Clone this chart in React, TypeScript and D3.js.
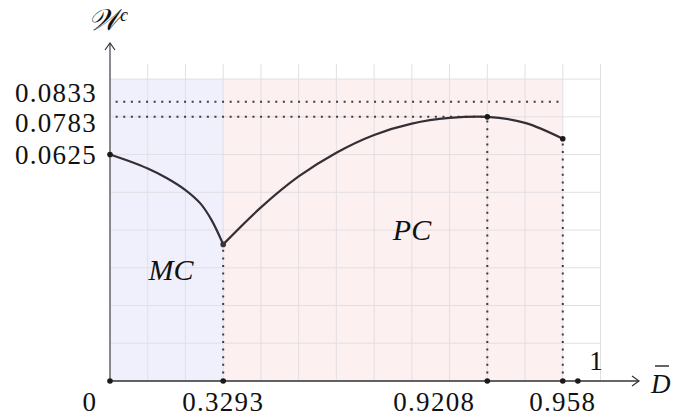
import React from "react";
import * as d3 from "d3";

// schematic plot units (1 unit = one grid square), as in the original figure
const xTickUnits = [0, 3, 10, 12, 12.4];
const xTickLabels = ["0", "0.3293", "0.9208", "0.958", "1"];
const yTickUnits = [6, 7, 7.4];
const yTickLabels = ["0.0625", "0.0783", "0.0833"];

// W^c curve in the MC region
const mcCurve: [number, number][] = [
  [0, 6], [0.5, 5.83], [1, 5.63], [1.5, 5.38], [2, 5.06], [2.4, 4.7], [2.7, 4.25], [3, 3.62],
];
// W^c curve in the PC region
const pcCurve: [number, number][] = [
  [3, 3.62], [4, 4.6], [5, 5.42], [6, 6.05], [7, 6.52], [8, 6.82], [9, 6.97],
  [10, 7.0], [11, 6.84], [12, 6.42],
];

const regions = [
  { name: "MC", x0: 0, x1: 3, fill: "#f0f0fd" },
  { name: "PC", x0: 3, x1: 12, fill: "#fdf0f0" },
];

const W = 675;
const H = 419;

export default function App() {
  const x = d3.scaleLinear().domain([0, 13]).range([110, 600.5]);
  const y = d3.scaleLinear().domain([0, 8.4]).range([381, 64]);

  const line = d3
    .line<[number, number]>()
    .x((d) => x(d[0]))
    .y((d) => y(d[1]))
    .curve(d3.curveCatmullRom.alpha(0.5));

  const gridX = d3.range(0, 14);
  const gridY = d3.range(0, 9);
  const font = "Liberation Serif, DejaVu Serif, serif";
  const dotted = { stroke: "#3c3c3c", strokeWidth: 2, strokeDasharray: "2 5.6" };

  const minPt = mcCurve[mcCurve.length - 1];
  const maxPt = pcCurve[7];
  const endPt = pcCurve[pcCurve.length - 1];

  // label nudges so the close y labels don't collide
  const yLabelShift = [0, 6, -9];
  const xLabelShift = [-20, 0, -53, 0, 0];

  return (
    <svg width={W} height={H} style={{ position: "absolute", left: 0, top: 0 }}>
      {regions.map((r) => (
        <rect key={r.name} x={x(r.x0)} y={y(8)} width={x(r.x1) - x(r.x0)} height={y(0) - y(8)} fill={r.fill} />
      ))}
      {gridX.map((g) => (
        <line key={"gx" + g} x1={x(g)} x2={x(g)} y1={y(0)} y2={y(8.4)} stroke="#e2dfe3" strokeWidth={1} />
      ))}
      {gridY.map((g) => (
        <line key={"gy" + g} x1={x(0)} x2={x(13)} y1={y(g)} y2={y(g)} stroke="#e2dfe3" strokeWidth={1} />
      ))}

      {/* dotted guides */}
      <line x1={x(0.15)} x2={x(12)} y1={y(7.4)} y2={y(7.4)} {...dotted} />
      <line x1={x(0.15)} x2={x(maxPt[0])} y1={y(maxPt[1])} y2={y(maxPt[1])} {...dotted} />
      <line x1={x(minPt[0])} x2={x(minPt[0])} y1={y(0)} y2={y(minPt[1])} {...dotted} />
      <line x1={x(maxPt[0])} x2={x(maxPt[0])} y1={y(0)} y2={y(maxPt[1])} {...dotted} />
      <line x1={x(endPt[0])} x2={x(endPt[0])} y1={y(0)} y2={y(endPt[1])} {...dotted} />

      {/* axes */}
      <line x1={x(0)} x2={x(0)} y1={y(0)} y2={43} stroke="#6e6e78" strokeWidth={1.6} />
      <path d={`M${x(0) - 5},${50} L${x(0)},${43} L${x(0) + 5},${50}`} fill="none" stroke="#333" strokeWidth={1.2} />
      <line x1={x(0)} x2={639} y1={y(0)} y2={y(0)} stroke="#333" strokeWidth={1.6} />
      <path d={`M${632},${y(0) - 5} L${639},${y(0)} L${632},${y(0) + 5}`} fill="none" stroke="#333" strokeWidth={1.2} />

      {/* curves */}
      <path d={line(mcCurve) || ""} fill="none" stroke="#352f35" strokeWidth={2.2} />
      <path d={line(pcCurve) || ""} fill="none" stroke="#352f35" strokeWidth={2.2} />

      {/* marks */}
      {xTickUnits.map((u) => (
        <circle key={"xd" + u} cx={x(u)} cy={y(0)} r={2.8} fill="#1a1a1a" />
      ))}
      <circle cx={x(0)} cy={y(6)} r={2.8} fill="#1a1a1a" />
      {[minPt, maxPt, endPt].map((p, i) => (
        <circle key={"p" + i} cx={x(p[0])} cy={y(p[1])} r={2.8} fill={i === 0 ? "#3a3338" : "#1a1a1a"} />
      ))}

      {/* tick labels */}
      {yTickUnits.map((u, i) => (
        <text key={"yl" + i} x={97} y={y(u) + yLabelShift[i] + 9} textAnchor="end" fontFamily={font} fontSize={27} letterSpacing={1.3} fill="#111">
          {yTickLabels[i]}
        </text>
      ))}
      {xTickUnits.map((u, i) =>
        i === 4 ? (
          <text key={"xl" + i} x={596} y={370} textAnchor="middle" fontFamily={font} fontSize={27} fill="#111">
            {xTickLabels[i]}
          </text>
        ) : (
          <text key={"xl" + i} x={x(u) + xLabelShift[i]} y={411} textAnchor="middle" fontFamily={font} fontSize={27} letterSpacing={1.3} fill="#111">
            {xTickLabels[i]}
          </text>
        )
      )}

      {/* region labels */}
      <text x={171} y={280} textAnchor="middle" fontFamily={font} fontStyle="italic" fontSize={30} fill="#111">MC</text>
      <text x={412} y={240} textAnchor="middle" fontFamily={font} fontStyle="italic" fontSize={30} fill="#111">PC</text>

      {/* axis titles */}
      <text x={88} y={30} fontFamily={font} fontStyle="italic" fontSize={30} fill="#111">
        𝒲<tspan fontSize={18} dx={1} dy={-9}>c</tspan>
      </text>
      <text x={651} y={393} fontFamily={font} fontStyle="italic" fontSize={27} fill="#111">D</text>
      <line x1={655} x2={669} y1={366} y2={366} stroke="#111" strokeWidth={1.3} />
    </svg>
  );
}
